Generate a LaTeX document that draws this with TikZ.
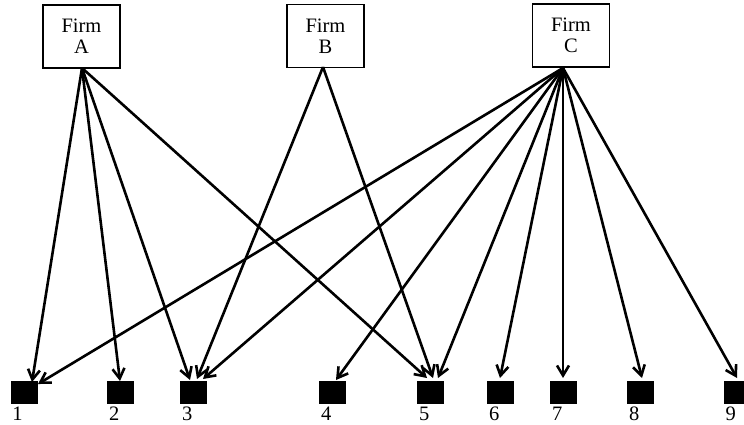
\documentclass[tikz,border=0pt]{standalone}
\usepackage{fontspec}
\setmainfont{Liberation Serif}
\usetikzlibrary{arrows.meta}
\begin{document}
\begin{tikzpicture}[x=1pt,y=-1pt,
  firm/.style={draw,line width=1.8pt,minimum width=77pt,minimum height=63pt,inner sep=0pt,align=center,font=\fontsize{20.5}{21}\selectfont},
  sq/.style={fill=black,minimum width=27pt,minimum height=23pt,inner sep=0pt},
  lab/.style={anchor=base west,inner sep=0pt,font=\fontsize{20.5}{21}\selectfont},
  arr/.style={line width=2.6pt,-{Straight Barb[length=10pt,width=12pt,line width=2.6pt]}}]
\useasboundingbox (0,0) rectangle (744,425);
\node[firm] (A) at (81.5,36.5) {Firm\\A};
\node[firm] (B) at (325.5,36) {Firm\\B};
\node[firm] (C) at (571,35.5) {Firm\\C};
\coordinate (oA) at (82,68);
\coordinate (oB) at (323,67);
\coordinate (oC) at (563,68);
\foreach \i/\x in {1/24,2/120.5,3/193.5,4/332.5,5/430.5,6/500.5,7/563.5,8/640.5,9/737}{
  \node[sq] (s\i) at (\x,392.5) {};
  \node[lab] (l\i) at ([xshift=2pt,yshift=-16pt]s\i.south west) {\i};
}
% ends
\coordinate (eA1) at (32,382);
\coordinate (eC1) at (38,384);
\coordinate (eA2) at (120,381);
\coordinate (eA3) at (190,380);
\coordinate (eB3) at (197,379);
\coordinate (eC3) at (203,379);
\coordinate (eC4) at (336,380);
\coordinate (eA5) at (427,378);
\coordinate (eB5) at (433,378);
\coordinate (eC5) at (438,378);
\coordinate (eC6) at (500,378);
\coordinate (eC7) at (563,378);
\coordinate (eC8) at (642,378);
\coordinate (eC9) at (737,378);
\draw[arr] (oA) -- (eA1);
\draw[arr] (oA) -- (eA2);
\draw[arr] (oA) -- (eA3);
\draw[arr] (oA) -- (eA5);
\draw[arr] (oB) -- (eB3);
\draw[arr] (oB) -- (eB5);
\foreach \j in {1,3,4,5,6,7,8,9}{\draw[arr] (oC) -- (eC\j);}
\end{tikzpicture}
\end{document}
